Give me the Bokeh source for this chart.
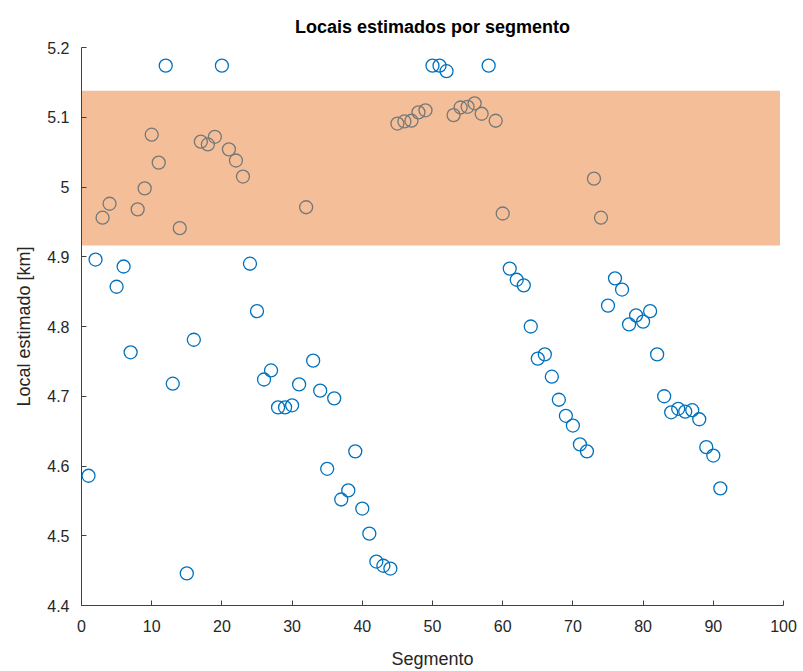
from bokeh.plotting import figure
from bokeh.models import Range1d, FixedTicker, ColumnDataSource
from bokeh.embed import file_html
from bokeh.resources import INLINE

segments = list(range(1, 92))
locais = [
    4.586, 4.896, 4.956, 4.976, 4.857, 4.886, 4.763, 4.968, 4.998, 5.075,
    5.035, 5.174, 4.718, 4.941, 4.446, 4.781, 5.065, 5.061, 5.072, 5.174,
    5.054, 5.038, 5.015, 4.890, 4.822, 4.724, 4.737, 4.684, 4.684, 4.687,
    4.717, 4.971, 4.751, 4.708, 4.596, 4.697, 4.552, 4.565, 4.621, 4.539,
    4.503, 4.463, 4.457, 4.453, 5.091, 5.094, 5.095, 5.107, 5.110, 5.174,
    5.174, 5.166, 5.103, 5.114, 5.115, 5.120, 5.105, 5.174, 5.095, 4.962,
    4.883, 4.867, 4.859, 4.800, 4.754, 4.760, 4.728, 4.695, 4.672, 4.658,
    4.631, 4.621, 5.012, 4.956, 4.830, 4.869, 4.853, 4.803, 4.816, 4.807,
    4.822, 4.760, 4.700, 4.677, 4.682, 4.678, 4.680, 4.667, 4.627, 4.615,
    4.568,
]
band_x = [0, 99.5]
band_y = [4.916, 5.138]
x_ticks = [0, 10, 20, 30, 40, 50, 60, 70, 80, 90, 100]
y_ticks = [4.4, 4.5, 4.6, 4.7, 4.8, 4.9, 5.0, 5.1, 5.2]
y_tick_labels = ["4.4", "4.5", "4.6", "4.7", "4.8", "4.9", "5", "5.1", "5.2"]

FONT = "Liberation Sans"
AXC = "#404040"

p = figure(width=803, height=671, output_backend="svg", toolbar_location=None,
           x_range=Range1d(0, 100), y_range=Range1d(4.4, 5.2),
           min_border_left=81, min_border_right=20, min_border_top=47,
           min_border_bottom=66, title="Locais estimados por segmento")
p.outline_line_color = None
p.grid.visible = False
p.background_fill_color = "white"
p.border_fill_color = "white"

p.title.align = "center"
p.title.text_font = FONT
p.title.text_font_size = "18px"
p.title.text_font_style = "bold"
p.title.text_color = "#000000"
p.title.standoff = 22

src = ColumnDataSource(dict(x=segments, y=locais))
p.scatter("x", "y", source=src, marker="circle", size=13, fill_color=None,
          line_color="#0072BD", line_width=1.3)

bsrc = ColumnDataSource(dict(left=[band_x[0]], right=[band_x[1]],
                             bottom=[band_y[0]], top=[band_y[1]]))
p.quad(left="left", right="right", bottom="bottom", top="top", source=bsrc,
       fill_color="#E97D31", fill_alpha=0.5, line_color=None)

for ax in (p.xaxis[0], p.yaxis[0]):
    ax.axis_line_color = AXC
    ax.axis_line_width = 1
    ax.major_tick_line_color = AXC
    ax.major_tick_in = 5
    ax.major_tick_out = 0
    ax.minor_tick_line_color = None
    ax.major_label_text_font = FONT
    ax.major_label_text_font_size = "16px"
    ax.major_label_text_color = "#262626"
    ax.axis_label_text_font = FONT
    ax.axis_label_text_font_size = "18px"
    ax.axis_label_text_font_style = "normal"
    ax.axis_label_text_color = "#262626"

p.xaxis.ticker = FixedTicker(ticks=x_ticks)
p.yaxis.ticker = FixedTicker(ticks=y_ticks)
p.yaxis.major_label_overrides = {t: l for t, l in zip(y_ticks, y_tick_labels)}
p.xaxis.axis_label = "Segmento"
p.yaxis.axis_label = "Local estimado [km]"
p.xaxis.major_label_standoff = 14
p.yaxis.major_label_standoff = 12
p.xaxis.axis_label_standoff = 14
p.yaxis.axis_label_standoff = 10

open("out.html", "w").write(file_html(p, INLINE))
